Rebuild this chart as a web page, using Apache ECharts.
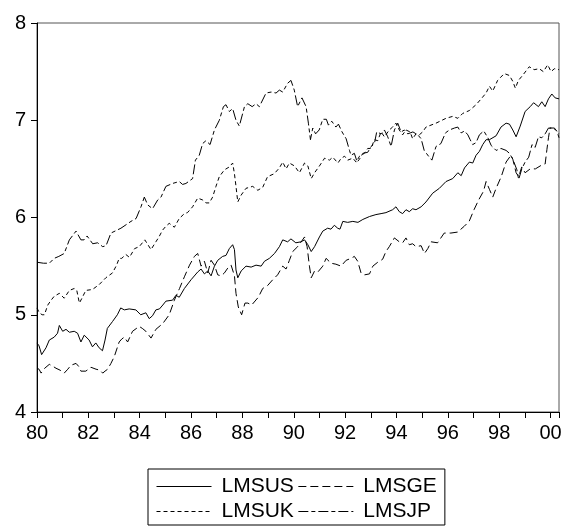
<!DOCTYPE html>
<html>
<head>
<meta charset="utf-8">
<script src="https://cdn.jsdelivr.net/npm/echarts@6/dist/echarts.min.js"></script>
<style>
html,body{margin:0;padding:0;background:#fff;}
#chart{width:566px;height:529px;}
</style>
</head>
<body>
<div id="chart"></div>
<script>
// [year (19xx), value]
const seriesNames = ['LMSUS', 'LMSGE', 'LMSUK', 'LMSJP'];
const yTicks = [4, 5, 6, 7, 8];
const xLabelYears = [80, 82, 84, 86, 88, 90, 92, 94, 96, 98, 100];

const lmsus = [
[80.00,4.71],[80.08,4.68],[80.18,4.59],[80.35,4.66],[80.48,4.74],[80.67,4.77],[80.80,4.81],[80.87,4.89],
[81.00,4.83],[81.13,4.85],[81.26,4.82],[81.45,4.83],[81.58,4.81],[81.71,4.72],[81.84,4.79],[82.03,4.74],
[82.16,4.67],[82.29,4.71],[82.42,4.66],[82.55,4.63],[82.65,4.74],[82.74,4.86],[82.94,4.93],[83.13,5.00],
[83.26,5.07],[83.40,5.05],[83.59,5.06],[83.85,5.05],[84.04,5.00],[84.24,5.02],[84.37,4.96],[84.50,4.99],
[84.63,5.05],[84.77,5.06],[84.90,5.10],[85.02,5.14],[85.28,5.15],[85.41,5.20],[85.54,5.18],[85.61,5.17],
[85.74,5.27],[86.00,5.36],[86.26,5.44],[86.39,5.47],[86.52,5.42],[86.65,5.45],[86.78,5.40],[86.91,5.50],
[87.04,5.56],[87.23,5.60],[87.36,5.61],[87.49,5.68],[87.62,5.72],[87.69,5.67],[87.75,5.46],[87.82,5.38],
[87.95,5.45],[88.14,5.50],[88.34,5.49],[88.53,5.51],[88.73,5.50],[88.86,5.55],[89.05,5.58],[89.25,5.63],
[89.44,5.70],[89.57,5.77],[89.76,5.75],[89.89,5.78],[90.08,5.74],[90.15,5.72],[90.28,5.75],[90.42,5.77],
[90.55,5.72],[90.68,5.65],[90.81,5.70],[91.00,5.80],[91.13,5.86],[91.32,5.89],[91.45,5.88],[91.58,5.92],
[91.71,5.89],[91.80,5.88],[91.91,5.96],[92.10,5.95],[92.30,5.96],[92.50,5.95],[92.69,5.98],[92.95,6.01],
[93.20,6.03],[93.40,6.04],[93.59,6.05],[93.85,6.08],[93.98,6.11],[94.11,6.06],[94.24,6.04],[94.37,6.08],
[94.50,6.06],[94.63,6.09],[94.76,6.08],[94.96,6.11],[95.15,6.16],[95.41,6.25],[95.67,6.30],[95.93,6.37],
[96.19,6.40],[96.39,6.46],[96.52,6.43],[96.65,6.51],[96.84,6.57],[96.97,6.56],[97.10,6.64],[97.23,6.68],
[97.36,6.75],[97.49,6.80],[97.62,6.80],[97.69,6.82],[97.88,6.84],[98.07,6.93],[98.27,6.97],[98.40,6.96],
[98.53,6.90],[98.66,6.83],[98.82,6.94],[99.01,7.09],[99.21,7.14],[99.34,7.18],[99.53,7.14],[99.66,7.19],
[99.79,7.14],[99.92,7.22],[100.05,7.27],[100.18,7.23],[100.33,7.22]
];

const lmsge = [
[80.00,4.45],[80.08,4.44],[80.16,4.40],[80.30,4.45],[80.48,4.49],[80.62,4.47],[80.74,4.45],[80.90,4.43],
[81.06,4.40],[81.20,4.44],[81.32,4.48],[81.52,4.50],[81.62,4.47],[81.71,4.42],[81.90,4.42],[82.10,4.46],
[82.30,4.44],[82.45,4.43],[82.56,4.40],[82.65,4.42],[82.75,4.44],[82.88,4.50],[83.01,4.57],[83.20,4.72],
[83.30,4.75],[83.40,4.77],[83.53,4.72],[83.72,4.83],[83.98,4.88],[84.10,4.86],[84.24,4.83],[84.44,4.76],
[84.63,4.85],[84.90,4.91],[85.15,5.00],[85.35,5.15],[85.55,5.27],[85.74,5.39],[85.94,5.51],[86.13,5.60],
[86.26,5.63],[86.39,5.50],[86.52,5.55],[86.65,5.43],[86.78,5.56],[86.91,5.51],[87.04,5.41],[87.17,5.40],
[87.30,5.43],[87.43,5.48],[87.56,5.51],[87.69,5.40],[87.75,5.22],[87.84,5.08],[87.97,5.00],[88.10,5.12],
[88.21,5.12],[88.36,5.10],[88.62,5.18],[88.79,5.27],[88.98,5.30],[89.18,5.36],[89.37,5.41],[89.57,5.50],
[89.70,5.47],[89.83,5.56],[89.96,5.65],[90.03,5.67],[90.15,5.70],[90.29,5.75],[90.42,5.80],[90.52,5.70],
[90.61,5.50],[90.68,5.38],[90.81,5.45],[90.94,5.44],[91.13,5.50],[91.26,5.58],[91.45,5.53],[91.64,5.52],
[91.84,5.50],[92.04,5.56],[92.23,5.58],[92.36,5.60],[92.49,5.55],[92.62,5.43],[92.75,5.41],[92.95,5.42],
[93.08,5.50],[93.27,5.54],[93.46,5.57],[93.59,5.65],[93.72,5.70],[93.92,5.79],[94.11,5.75],[94.24,5.74],
[94.37,5.79],[94.50,5.72],[94.63,5.73],[94.76,5.70],[94.96,5.71],[95.09,5.63],[95.22,5.68],[95.35,5.75],
[95.60,5.74],[95.86,5.84],[96.12,5.84],[96.38,5.85],[96.64,5.91],[96.83,5.96],[97.02,6.08],[97.20,6.18],
[97.39,6.27],[97.49,6.37],[97.62,6.29],[97.75,6.21],[97.88,6.30],[98.08,6.42],[98.27,6.57],[98.46,6.64],
[98.53,6.60],[98.66,6.46],[98.76,6.42],[98.88,6.52],[99.01,6.46],[99.21,6.50],[99.41,6.50],[99.66,6.54],
[99.79,6.55],[99.86,6.70],[99.92,6.82],[99.98,6.92],[100.15,6.92],[100.33,6.86]
];

const lmsuk = [
[80.00,5.07],[80.09,5.02],[80.20,5.00],[80.29,5.00],[80.42,5.10],[80.55,5.15],[80.67,5.19],[80.87,5.22],
[81.06,5.17],[81.26,5.25],[81.45,5.27],[81.55,5.25],[81.65,5.12],[81.75,5.17],[81.90,5.25],[82.16,5.26],
[82.42,5.31],[82.68,5.38],[82.94,5.43],[83.10,5.51],[83.20,5.58],[83.30,5.58],[83.46,5.62],[83.60,5.59],
[83.80,5.68],[83.98,5.70],[84.20,5.77],[84.44,5.67],[84.63,5.75],[84.75,5.80],[84.89,5.87],[85.02,5.91],
[85.15,5.94],[85.35,5.90],[85.54,5.99],[85.74,6.04],[85.86,6.05],[86.06,6.11],[86.26,6.20],[86.45,6.18],
[86.58,6.15],[86.71,6.15],[86.84,6.21],[86.97,6.32],[87.10,6.42],[87.30,6.49],[87.49,6.52],[87.62,6.56],
[87.69,6.45],[87.75,6.32],[87.82,6.16],[87.95,6.23],[88.14,6.30],[88.40,6.32],[88.60,6.28],[88.79,6.31],
[88.98,6.42],[89.24,6.45],[89.44,6.51],[89.57,6.57],[89.70,6.50],[89.83,6.56],[90.03,6.53],[90.22,6.46],
[90.42,6.56],[90.55,6.53],[90.68,6.40],[90.81,6.46],[91.00,6.53],[91.20,6.61],[91.39,6.59],[91.52,6.62],
[91.72,6.56],[91.85,6.61],[91.98,6.63],[92.10,6.59],[92.30,6.61],[92.43,6.57],[92.56,6.63],[92.75,6.66],
[92.88,6.71],[93.01,6.71],[93.14,6.80],[93.27,6.79],[93.40,6.88],[93.53,6.83],[93.72,6.90],[93.85,6.93],
[93.98,6.97],[94.11,6.90],[94.24,6.85],[94.37,6.90],[94.53,6.88],[94.63,6.81],[94.76,6.86],[94.89,6.85],
[95.02,6.88],[95.15,6.93],[95.54,6.97],[95.93,7.02],[96.19,7.04],[96.39,7.02],[96.58,7.07],[96.84,7.10],
[97.10,7.16],[97.30,7.22],[97.49,7.28],[97.62,7.35],[97.75,7.30],[97.94,7.41],[98.20,7.48],[98.40,7.46],
[98.53,7.40],[98.63,7.33],[98.75,7.41],[98.91,7.46],[99.17,7.55],[99.36,7.52],[99.56,7.53],[99.72,7.50],
[99.89,7.57],[100.02,7.50],[100.15,7.53],[100.33,7.52]
];

const lmsjp = [
[80.00,5.54],[80.25,5.53],[80.48,5.53],[80.67,5.58],[80.85,5.60],[81.06,5.63],[81.26,5.77],[81.52,5.86],
[81.71,5.77],[81.83,5.77],[81.95,5.81],[82.17,5.73],[82.36,5.74],[82.56,5.70],[82.69,5.71],[82.88,5.84],
[83.27,5.89],[83.66,5.96],[83.86,5.99],[84.05,6.11],[84.18,6.21],[84.31,6.13],[84.50,6.09],[84.70,6.18],
[84.83,6.21],[85.02,6.32],[85.28,6.35],[85.54,6.37],[85.67,6.34],[85.80,6.35],[86.06,6.40],[86.17,6.59],
[86.32,6.64],[86.45,6.76],[86.58,6.79],[86.74,6.75],[86.91,6.90],[87.10,7.00],[87.26,7.14],[87.36,7.16],
[87.49,7.09],[87.62,7.12],[87.75,7.00],[87.88,6.94],[88.08,7.14],[88.21,7.17],[88.38,7.14],[88.53,7.17],
[88.66,7.14],[88.92,7.28],[89.12,7.29],[89.31,7.28],[89.44,7.31],[89.57,7.29],[89.76,7.38],[89.89,7.41],
[90.02,7.31],[90.09,7.29],[90.15,7.14],[90.32,7.23],[90.48,7.14],[90.57,6.97],[90.65,6.80],[90.74,6.92],
[90.85,6.86],[90.99,6.90],[91.13,7.01],[91.27,7.01],[91.35,6.95],[91.48,6.99],[91.64,6.93],[91.74,6.96],
[91.88,6.88],[92.04,6.81],[92.17,6.69],[92.23,6.64],[92.36,6.66],[92.47,6.57],[92.56,6.60],[92.69,6.66],
[92.88,6.67],[93.01,6.73],[93.14,6.76],[93.23,6.88],[93.40,6.86],[93.53,6.90],[93.66,6.83],[93.79,6.73],
[93.92,6.90],[94.05,6.97],[94.18,6.88],[94.31,6.90],[94.44,6.86],[94.64,6.88],[94.83,6.85],[94.96,6.81],
[95.08,6.69],[95.25,6.63],[95.38,6.59],[95.54,6.73],[95.73,6.76],[95.91,6.87],[96.06,6.90],[96.26,6.92],
[96.39,6.93],[96.52,6.87],[96.65,6.89],[96.78,6.85],[96.87,6.80],[96.97,6.75],[97.10,6.77],[97.23,6.85],
[97.40,6.89],[97.56,6.82],[97.69,6.74],[97.88,6.69],[98.07,6.71],[98.27,6.69],[98.40,6.66],[98.53,6.60],
[98.69,6.49],[98.76,6.39],[98.88,6.50],[99.01,6.57],[99.15,6.62],[99.28,6.75],[99.40,6.72],[99.53,6.83],
[99.66,6.82],[99.79,6.86],[99.92,6.92],[100.10,6.92],[100.25,6.89],[100.33,6.82]
];

const FONT = 'Liberation Sans, Arial, sans-serif';
const chart = echarts.init(document.getElementById('chart'), null, {renderer: 'canvas'});

function mk(name, data, type) {
  return {
    name: name, type: 'line', data: data, showSymbol: false, symbol: 'none',
    animation: false, silent: true,
    lineStyle: {color: '#000', width: 1, type: type},
    itemStyle: {color: '#000'}
  };
}

chart.setOption({
  backgroundColor: '#fff',
  animation: false,
  grid: {left: 37, top: 23, width: 522, height: 389, show: true, borderColor: '#555', borderWidth: 1, containLabel: false},
  xAxis: {
    type: 'value', min: 80, max: 100.33, interval: 1,
    axisLine: {lineStyle: {color: '#000', width: 1}},
    axisTick: {show: true, inside: false, length: 6, lineStyle: {color: '#000'}},
    splitLine: {show: false},
    axisLabel: {
      fontSize: 20, fontFamily: FONT, color: '#000', margin: 11,
      formatter: function (v) {
        const r = Math.round(v);
        if (Math.abs(v - r) > 1e-6 || xLabelYears.indexOf(r) < 0) return '';
        return String(r % 100).padStart(2, '0');
      }
    }
  },
  yAxis: {
    type: 'value', min: yTicks[0], max: yTicks[yTicks.length - 1], interval: 1,
    axisLine: {show: true, lineStyle: {color: '#000', width: 1}},
    axisTick: {show: true, inside: false, length: 6, lineStyle: {color: '#000'}},
    splitLine: {show: false},
    axisLabel: {fontSize: 20, fontFamily: FONT, color: '#000', margin: 11}
  },
  legend: {
    data: seriesNames,
    left: 148, top: 469, width: 285,
    orient: 'horizontal',
    itemWidth: 55, itemHeight: 14, itemGap: 4,
    padding: [7, 8, 3, 8],
    borderColor: '#000', borderWidth: 1,
    backgroundColor: '#fff',
    itemStyle: {opacity: 0, borderWidth: 0},
    lineStyle: {color: '#000', width: 1},
    textStyle: {fontSize: 21, fontFamily: FONT, color: '#000', padding: [0, 0, 0, 5], lineHeight: 20},
    selectedMode: false
  },
  series: [
    mk(seriesNames[0], lmsus, 'solid'),
    mk(seriesNames[1], lmsge, [8, 4]),
    mk(seriesNames[2], lmsuk, [4, 3]),
    mk(seriesNames[3], lmsjp, [10, 3, 4, 3])
  ]
});
</script>
</body>
</html>
